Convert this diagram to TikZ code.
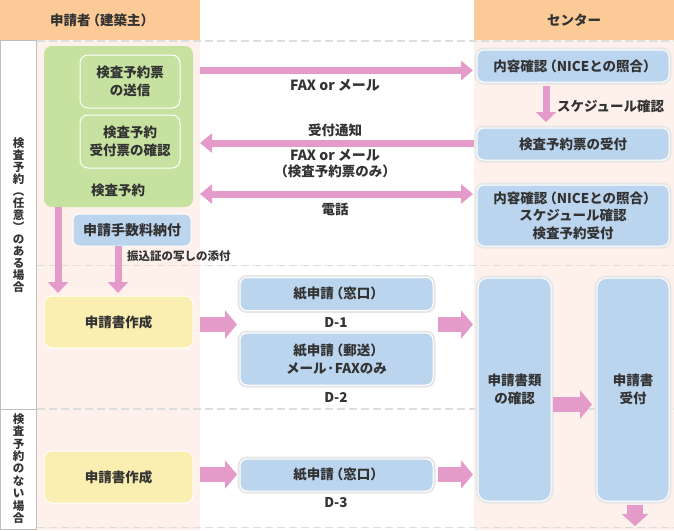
\documentclass[tikz,border=0pt]{standalone}
\usepackage{fontspec}
\setmainfont{Noto Sans CJK JP}
\usetikzlibrary{arrows.meta,calc}
\definecolor{hdrc}{HTML}{FCCA97}
\definecolor{pnk}{HTML}{FEF0EB}
\definecolor{grn}{HTML}{C6E1A0}
\definecolor{blu}{HTML}{BCD5EF}
\definecolor{ylw}{HTML}{FBEEB1}
\definecolor{arr}{HTML}{E59BC9}
\definecolor{txt}{HTML}{333333}
\definecolor{ringc}{HTML}{E6E6E6}
\definecolor{dashc}{HTML}{DDDDDD}
\newcommand{\LP}{\kern-0.3em（}
\newcommand{\RP}{）\kern-0.3em}
\tikzset{
  lbl/.style={text=txt, font=\bfseries\fontsize{13.5}{17.5}\selectfont, inner sep=0pt, outer sep=0pt, align=center},
  hdr/.style={lbl, fill=hdrc},
  gbox/.style={lbl, fill=grn, draw=white, line width=1pt, rounded corners=8pt},
  bbox/.style={lbl, fill=blu, draw=white, line width=1pt, rounded corners=7pt},
  rbox/.style={bbox, preaction={draw=ringc, line width=5pt}},
  ybox/.style={lbl, fill=ylw, draw=white, line width=1pt, rounded corners=8pt},
  vtext/.style={lbl, font=\bfseries\fontsize{11.5}{12}\selectfont},
  dline/.style={draw=dashc, line width=1.5pt, dash pattern=on 8pt off 4pt},
  parrow/.style={draw=arr, line width=7pt, -{Triangle[width=19pt,length=12pt]}},
  parrowb/.style={draw=arr, line width=7pt, {Triangle[width=19pt,length=12pt]}-{Triangle[width=19pt,length=12pt]}},
  farrow/.style={draw=arr, line width=15pt, -{Triangle[width=28pt,length=12pt]}},
}
\begin{document}
\begin{tikzpicture}[x=1pt,y=-1pt]
\useasboundingbox (0,0) rectangle (674,530);
% backgrounds
\fill[pnk] (37,40) rectangle (200,530);
\fill[pnk] (474,40) rectangle (674,530);
% dashed separators
\draw[dline] (37,41) -- (674,41);
\draw[dline] (37,265.5) -- (674,265.5);
\draw[dline] (37,409) -- (674,409);
\draw[dline] (37,527.5) -- (674,527.5);
% left label column
\draw[black!25, line width=1pt] (0.5,40) rectangle (36.5,529.5);
\draw[black!25, line width=1pt] (0.5,409) -- (36.5,409);
\node[vtext] (vt1) at (18.5,215) {検\\査\\予\\約\\︵\\任\\意\\︶\\の\\あ\\る\\場\\合};
\node[vtext, font=\bfseries\fontsize{11.5}{12.4}\selectfont] (vt2) at (18.5,468.5) {検\\査\\予\\約\\の\\な\\い\\場\\合};
% headers
\node[hdr, minimum width=200pt, minimum height=40pt] (hL) at (100,20) {申請者\LP 建築主\RP};
\node[hdr, minimum width=200pt, minimum height=40pt] (hR) at (574,20) {センター};
% applicant side
\node[gbox, draw=none, minimum width=149pt, minimum height=161pt] (green) at (118.5,126.5) {};
\node[gbox, minimum width=100pt, minimum height=53pt] (g1) at (130,81.5) {検査予約票\\の送信};
\node[gbox, minimum width=100pt, minimum height=53pt] (g2) at (130,141.5) {検査予約\\受付票の確認};
\node[lbl] (glabel) at (118,190) {検査予約};
\node[bbox, rounded corners=6pt, minimum width=118pt, minimum height=32pt, font=\bfseries\fontsize{14}{17.5}\selectfont] (fee) at (132,230) {申請手数料納付};
\node[ybox, minimum width=149pt, minimum height=52pt] (y1) at (118.5,322) {申請書作成};
\node[ybox, minimum width=149pt, minimum height=52pt] (y2) at (118.5,477) {申請書作成};
% center side
\node[rbox, minimum width=192pt, minimum height=32pt] (r1) at (573,66) {内容確認\LP NICEとの照合\RP};
\node[rbox, minimum width=192pt, minimum height=32pt] (r2) at (573,144) {検査予約票の受付};
\node[rbox, minimum width=192pt, minimum height=61pt] (r3) at (573,215.5) {内容確認\LP NICEとの照合\RP\\スケジュール確認\\検査予約受付};
% D boxes
\node[rbox, minimum width=193pt, minimum height=33pt] (d1) at (336.5,294) {紙申請\LP 窓口\RP};
\node[rbox, minimum width=193pt, minimum height=52pt] (d2) at (336.5,359) {紙申請\LP 郵送\RP\\メール·FAXのみ};
\node[rbox, minimum width=193pt, minimum height=32pt] (d3) at (336.5,475) {紙申請\LP 窓口\RP};
\node[lbl] (d1l) at (336,322) {D-1};
\node[lbl] (d2l) at (336,397) {D-2};
\node[lbl] (d3l) at (336,503) {D-3};
\node[rbox, rounded corners=10pt, minimum width=73pt, minimum height=223pt] (conf) at (514.5,389.5) {申請書類\\の確認};
\node[rbox, rounded corners=10pt, minimum width=72pt, minimum height=223pt] (recv) at (633,389.5) {申請書\\受付};
% thin arrows
\draw[parrow] ($(green.east |- r1.west)+(7,4.5)$) -- ($(r1.west)+(-4,4.5)$);
\draw[parrow] ($(r2.west)+(-3,-1)$) -- ($(green.east |- r2.west)+(7,-1)$);
\draw[parrowb] ($(green.east |- r3.west)+(7,-21.5)$) -- ($(r3.west)+(-4,-21.5)$);
\draw[parrow, -{Triangle[width=20pt,length=10pt]}] ($(r1.south)+(-27,4)$) -- ($(r2.north)+(-27,-6)$);
\draw[parrow, -{Triangle[width=20pt,length=11pt]}] ($(green.south)+(-60.5,0)$) -- ($(y1.north)+(-60.5,-3)$);
\draw[parrow, -{Triangle[width=20pt,length=11pt]}] ($(fee.south)+(-14,0)$) -- ($(fee.south |- y1.north)+(-14,-3)$);
% arrow labels
\node[lbl, font=\bfseries\fontsize{14}{17.5}\selectfont] (l1) at (335,85) {FAX or メール};
\node[lbl] (l2) at (335,130) {受付通知};
\node[lbl, font=\bfseries\fontsize{13.5}{16}\selectfont] (l3) at (335,164) {{\fontsize{14}{16}\selectfont FAX or メール}\\\LP 検査予約票のみ\RP};
\node[lbl] (l4) at (335,209) {電話};
\node[lbl, anchor=west] (l5) at (557,106) {スケジュール確認};
\node[lbl, anchor=west, font=\bfseries\fontsize{11.5}{14}\selectfont] (l6) at (127,256) {振込証の写しの添付};
% fat arrows
\draw[farrow] ($(y1.east)+(7,2.5)$) -- ($(d1.west)!0.5!(d2.west)+(-3,-2)$);
\draw[farrow] ($(y2.east)+(7,-2.5)$) -- ($(d3.west)+(-3,-0.5)$);
\draw[farrow] ($(d1.east)!0.5!(d2.east)+(5,-2)$) -- ($(conf.west |- d1.east)!0.5!(conf.west |- d2.east)+(-5,-2)$);
\draw[farrow] ($(d3.east)+(5,-0.5)$) -- ($(conf.west |- d3.east)+(-5,-0.5)$);
\draw[farrow] ($(conf.east)+(2,15)$) -- ($(recv.west)+(-5,15)$);
\coordinate (out) at (635,526);
\draw[farrow, line width=16pt, -{Triangle[width=26pt,length=12pt]}] ($(recv.south)+(2,4)$) -- (out);
\end{tikzpicture}
\end{document}
